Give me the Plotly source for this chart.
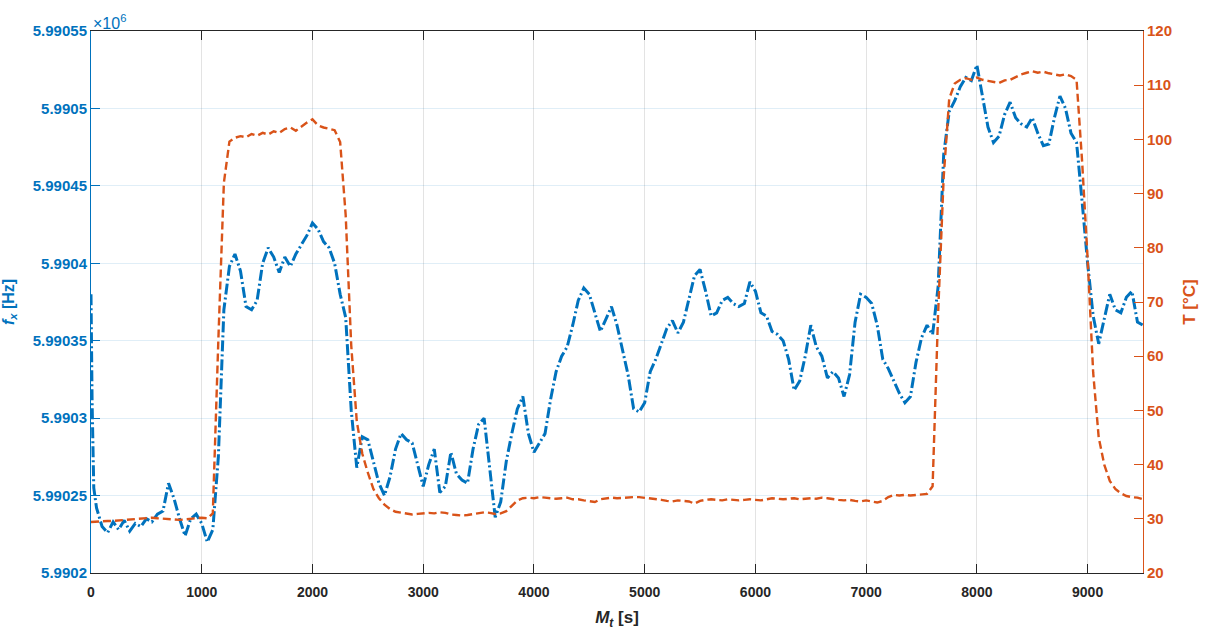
import numpy as np
import plotly.graph_objects as go

# ---- data ----
# time axis (s)
t_freq = [0, 10, 25] + list(range(50, 9501, 50))
# frequency deviation above 5.9902e6 Hz
freq_dev = [
    180, 110, 55,
    42, 30, 26, 33, 28, 34, 27, 32, 30, 35, 33, 38, 40, 58, 48, 35, 24, 35, 38, 32, 20,   # 50..1050
    28, 75, 170, 198, 206, 195, 172, 170, 176, 200, 210, 204, 194, 204, 198, 206, 212,   # 1100..1900
    218, 226, 222, 214, 210, 200, 180, 165, 105, 68, 88, 86, 72, 58, 50, 62, 80, 90,    # 1950..2800
    86, 84, 70, 56, 70, 80, 52, 56, 78, 64, 60, 58, 80, 96, 100, 70, 36, 46, 72, 90,    # 2850..3800
    106, 114, 90, 78, 84, 90, 112, 130, 140, 146, 160, 176, 184, 180, 168, 156, 164,    # 3850..4650
    172, 160, 145, 128, 106, 104, 110, 130, 138, 148, 158, 163, 155, 162, 178, 192,     # 4700..5450
    196, 182, 166, 168, 176, 178, 174, 172, 174, 188, 182, 168, 166, 156, 154, 150,     # 5500..6250
    138, 118, 124, 140, 160, 146, 140, 126, 130, 126, 114, 128, 162, 180, 178, 174,     # 6300..7050
    160, 138, 132, 124, 116, 110, 114, 136, 152, 160, 154, 185, 270, 298, 305, 314,     # 7100..7850
    320, 318, 328, 308, 288, 278, 282, 296, 304, 294, 290, 288, 294, 284, 276, 277,     # 7900..8650
    294, 308, 300, 284, 278, 240, 200, 166, 148, 164, 180, 170, 168, 178, 182, 162, 160  # 8700..9500
]

t_temp = list(range(0, 9501, 50))
temp_c = [
    29.4, 29.5, 29.5, 29.6, 29.6, 29.7, 29.8, 29.8, 29.9, 30.0,            # 0..450
    30.1, 30.2, 30.1, 30.0, 29.9, 29.8, 29.8, 29.9, 30.0, 30.1,            # 500..950
    30.2, 30.1, 31.0, 63.0, 92.0, 99.6, 100.3, 100.6, 100.4, 101.0,        # 1000..1450
    100.7, 101.2, 100.9, 101.5, 101.2, 101.9, 102.2, 101.6, 102.4, 103.1,  # 1500..1950
    103.7, 102.6, 102.2, 102.0, 101.7, 99.5, 86.0, 62.0, 48.0, 42.0,       # 2000..2450
    38.5, 35.5, 33.8, 32.6, 31.8, 31.3, 31.1, 30.9, 30.8, 30.9,            # 2500..2950
    31.0, 31.1, 31.0, 31.2, 31.1, 30.8, 30.7, 30.6, 30.7, 30.9,            # 3000..3450
    31.1, 31.2, 31.1, 30.9, 31.0, 31.4, 32.4, 33.4, 33.8, 33.9,            # 3500..3950
    33.8, 34.0, 33.9, 33.8, 33.7, 33.8, 33.9, 33.6, 33.6, 33.4,            # 4000..4450
    33.2, 33.1, 33.6, 33.8, 33.9, 33.8, 33.9, 34.0, 34.0, 34.0,            # 4500..4950
    33.9, 33.8, 33.6, 33.5, 33.3, 33.2, 33.4, 33.3, 33.2, 32.8,            # 5000..5450
    33.3, 33.5, 33.6, 33.5, 33.4, 33.6, 33.5, 33.4, 33.5, 33.6,            # 5500..5950
    33.5, 33.4, 33.6, 33.8, 33.7, 33.6, 33.7, 33.8, 33.6, 33.7,            # 6000..6450
    33.8, 33.7, 33.9, 33.8, 33.6, 33.5, 33.4, 33.5, 33.3, 33.2,            # 6500..6950
    33.4, 33.2, 33.0, 33.3, 34.0, 34.4, 34.3, 34.4, 34.3, 34.4,            # 7000..7450
    34.5, 34.6, 36.0, 68.0, 93.0, 107.5, 110.3, 111.0, 111.3, 111.0,       # 7500..7950
    111.4, 111.0, 110.8, 110.6, 110.4, 110.9, 111.0, 111.5, 112.0, 112.3,  # 8000..8450
    112.6, 112.3, 112.5, 112.2, 112.0, 111.8, 112.0, 111.7, 111.0, 96.0,   # 8500..8950
    78.0, 57.0, 45.0, 40.0, 37.0, 35.5, 34.7, 34.2, 34.0, 33.9, 33.6       # 9000..9500
]

freq_ticks = [5990200, 5990250, 5990300, 5990350, 5990400, 5990450, 5990500, 5990550]
freq_tick_text = ["5.9902", "5.99025", "5.9903", "5.99035", "5.9904", "5.99045", "5.9905", "5.99055"]
temp_ticks = [20, 30, 40, 50, 60, 70, 80, 90, 100, 110, 120]
time_ticks = [0, 1000, 2000, 3000, 4000, 5000, 6000, 7000, 8000, 9000]

BLUE = "#0072BD"
ORANGE = "#D95319"
DARK = "#262626"
FONT = "Liberation Sans"

freq_hz = 5.9902e6 + np.array(freq_dev, dtype=float)

fig = go.Figure()
fig.add_trace(go.Scatter(
    x=t_freq, y=freq_hz, mode="lines", yaxis="y",
    line=dict(color=BLUE, width=3, dash="11px,3px,2px,3px"),
    showlegend=False, hoverinfo="skip"))
fig.add_trace(go.Scatter(
    x=t_temp, y=temp_c, mode="lines", yaxis="y2",
    line=dict(color=ORANGE, width=2.4, dash="8px,4px"),
    showlegend=False, hoverinfo="skip"))

fig.update_layout(
    width=1206, height=638,
    margin=dict(l=91, r=63, t=31, b=65, autoexpand=False),
    paper_bgcolor="white", plot_bgcolor="white",
    font=dict(family=FONT, color=DARK),
    xaxis=dict(
        range=[0, 9500], tickvals=time_ticks, automargin=False,
        ticks="inside", ticklen=9, tickcolor=DARK, tickwidth=1,
        ticklabelstandoff=6,
        showline=True, linecolor=DARK, linewidth=1, mirror="ticks",
        showgrid=True, gridcolor="rgba(38,38,38,0.13)", gridwidth=1,
        zeroline=False,
        tickfont=dict(family=FONT, size=14, color=DARK, weight="bold"),
        title=dict(text="<i>M</i><sub><i>t</i></sub> [s]", standoff=12,
                   font=dict(family=FONT, size=17, color=DARK, weight="bold")),
    ),
    yaxis=dict(
        range=[5990200, 5990550], tickvals=freq_ticks, ticktext=freq_tick_text,
        automargin=False,
        ticks="inside", ticklen=9, tickcolor=BLUE, tickwidth=1,
        showline=True, linecolor=BLUE, linewidth=1,
        showgrid=True, gridcolor="rgba(0,114,189,0.12)", gridwidth=1,
        zeroline=False,
        tickfont=dict(family=FONT, size=15, color=BLUE, weight="bold"),
        title=dict(text="<i>f</i><sub><i>x</i></sub> [Hz]", standoff=14,
                   font=dict(family=FONT, size=16, color=BLUE, weight="bold")),
    ),
    yaxis2=dict(
        range=[20, 120], tickvals=temp_ticks, overlaying="y", side="right",
        automargin=False,
        ticks="inside", ticklen=9, tickcolor=ORANGE, tickwidth=1,
        showline=True, linecolor=ORANGE, linewidth=1,
        showgrid=False, zeroline=False,
        tickfont=dict(family=FONT, size=15, color=ORANGE, weight="bold"),
        title=dict(text="T [°C]", standoff=12,
                   font=dict(family=FONT, size=17, color=ORANGE, weight="bold")),
    ),
    annotations=[dict(
        text="×10<sup>6</sup>", xref="paper", yref="paper", x=0, y=1,
        xanchor="left", yanchor="bottom", showarrow=False, yshift=-3,
        font=dict(family=FONT, size=16, color=BLUE))],
)

fig.write_html("out.html")
